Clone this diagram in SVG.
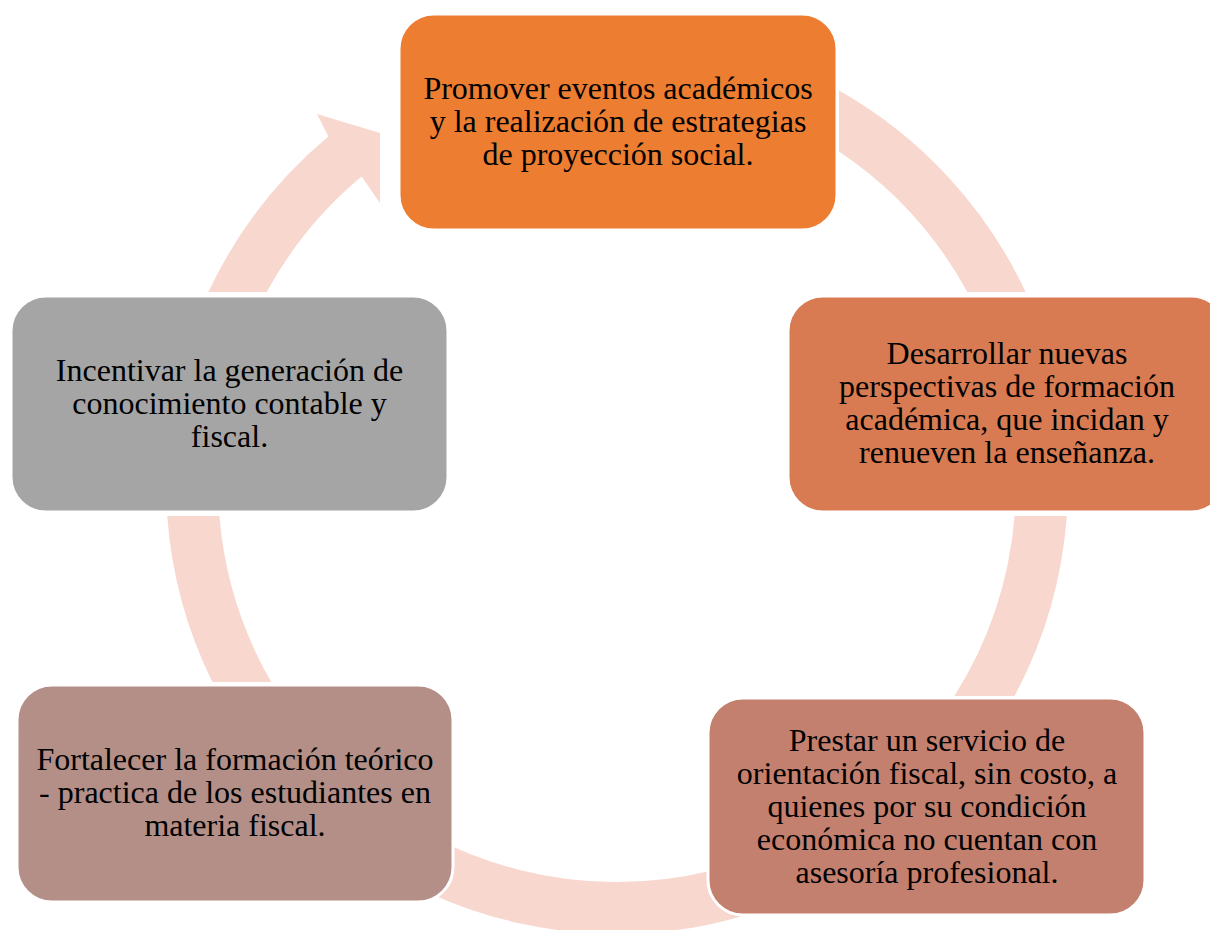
<svg xmlns="http://www.w3.org/2000/svg" width="1210" height="930" viewBox="0 0 1210 930">
<style>
.arc{fill:#F8D8CE;stroke:none}
.box{stroke:#FFFFFF;stroke-width:3}
.t{font-family:"Liberation Serif","Times New Roman",serif;font-size:32px;fill:#000000;text-anchor:middle}
</style>
<rect x="0" y="0" width="1210" height="930" fill="#FFFFFF"/>
<g id="connectors">
<path class="arc" d="M 208.4,292 A 451 451 0 0 1 328.4,136.6 L 317,114 L 380,133 L 380,203 L 361.6,176.6 A 399 399 0 0 0 266.7,292 Z"/>
<path class="arc" d="M 839,90.4 A 451 451 0 0 1 1025.6,292 L 967.3,292 A 399 399 0 0 0 839,151.5 Z"/>
<path class="arc" d="M 1066.8,516 A 451 451 0 0 1 1014.5,696 L 954.4,696 A 399 399 0 0 0 1014.6,516 Z"/>
<path class="arc" d="M 800,895.2 A 451 451 0 0 1 430,893.4 L 430,835.5 A 399 399 0 0 0 800,837.6 Z"/>
<path class="arc" d="M 212.3,682 A 451 451 0 0 1 167.2,516 L 219.4,516 A 399 399 0 0 0 271.2,682 Z"/>
</g>
<g id="node1">
<rect class="box" x="399" y="14" width="438" height="216" rx="35" fill="#ED7D31"/>
<text class="t" x="618" y="99">Promover eventos académicos</text>
<text class="t" x="618" y="132">y la realización de estrategias</text>
<text class="t" x="618" y="165">de proyección social.</text>
</g>
<g id="node2">
<rect class="box" x="788" y="296" width="438" height="216" rx="35" fill="#D87B52"/>
<text class="t" x="1007" y="364">Desarrollar nuevas</text>
<text class="t" x="1007" y="397">perspectivas de formación</text>
<text class="t" x="1007" y="430">académica, que incidan y</text>
<text class="t" x="1007" y="463">renueven la enseñanza.</text>
</g>
<g id="node3">
<rect class="box" x="708" y="698" width="437" height="217" rx="35" fill="#C4806F"/>
<text class="t" x="927" y="751">Prestar un servicio de</text>
<text class="t" x="927" y="784">orientación fiscal, sin costo, a</text>
<text class="t" x="927" y="817">quienes por su condición</text>
<text class="t" x="927" y="850">económica no cuentan con</text>
<text class="t" x="927" y="883">asesoría profesional.</text>
</g>
<g id="node4">
<rect class="box" x="17" y="685" width="436" height="217" rx="35" fill="#B38F88"/>
<text class="t" x="235" y="770">Fortalecer la formación teórico</text>
<text class="t" x="235" y="803">- practica de los estudiantes en</text>
<text class="t" x="235" y="836">materia fiscal.</text>
</g>
<g id="node5">
<rect class="box" x="11" y="296" width="437" height="216" rx="35" fill="#A5A5A5"/>
<text class="t" x="229.5" y="381">Incentivar la generación de</text>
<text class="t" x="229.5" y="414">conocimiento contable y</text>
<text class="t" x="229.5" y="447">fiscal.</text>
</g>
</svg>
